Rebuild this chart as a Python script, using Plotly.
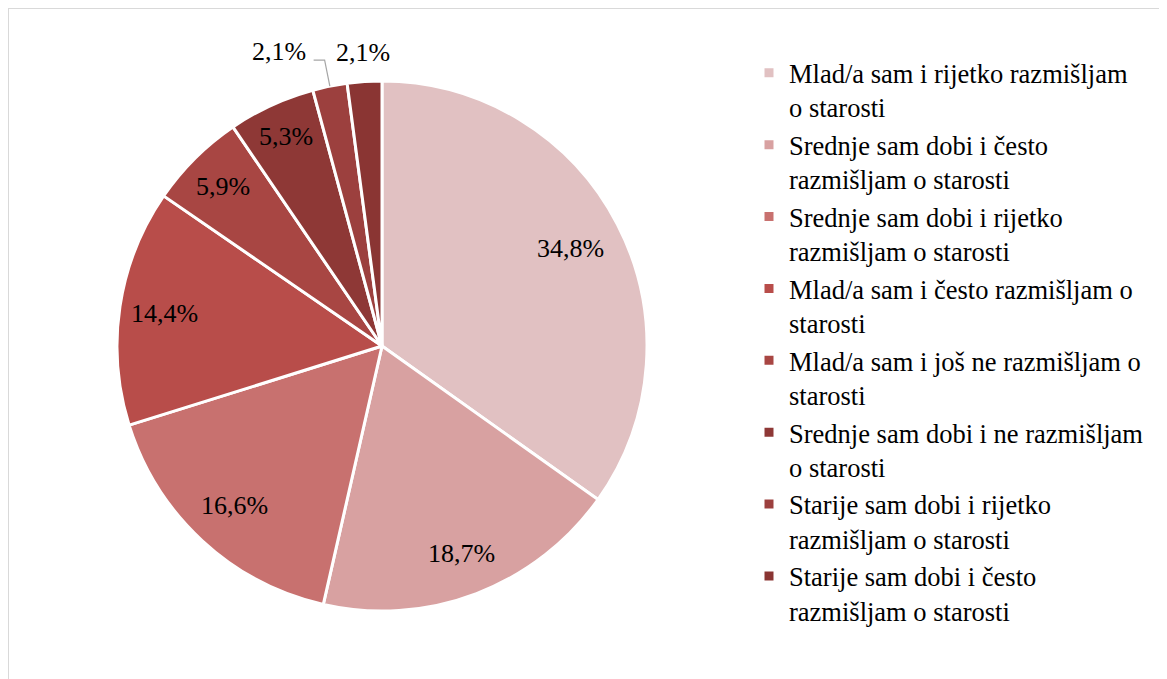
import math
import plotly.graph_objects as go

# ---- data ----
categories = [
    "Mlad/a sam i rijetko razmišljam<br>o starosti",
    "Srednje sam dobi i često<br>razmišljam o starosti",
    "Srednje sam dobi i rijetko<br>razmišljam o starosti",
    "Mlad/a sam i često razmišljam o<br>starosti",
    "Mlad/a sam i još ne razmišljam o<br>starosti",
    "Srednje sam dobi i ne razmišljam<br>o starosti",
    "Starije sam dobi i rijetko<br>razmišljam o starosti",
    "Starije sam dobi i često<br>razmišljam o starosti",
]
values = [34.8, 18.7, 16.6, 14.4, 5.9, 5.3, 2.1, 2.1]
value_labels = ["34,8%", "18,7%", "16,6%", "14,4%", "5,9%", "5,3%", "2,1%", "2,1%"]

# ---- style ----
colors = ["#E1C1C2", "#D8A1A1", "#C8716F", "#B84D4A",
          "#A84643", "#8E3836", "#9C403E", "#8A3533"]
label_radius = [0.80, 0.84, 0.82, 0.83, 0.85, 0.87, 1.10, 1.11]
W, H = 1167, 679
OFF = 8  # page body margin
CX, CY, R = 382 - OFF, 346 - OFF, 265  # pie centre / radius in figure pixels
FONT = "Liberation Serif"


def px(x):
    return x / W


def py(y):
    return 1 - y / H


fig = go.Figure(go.Pie(
    labels=categories,
    values=values,
    sort=False,
    direction="clockwise",
    rotation=0,
    marker=dict(colors=colors, line=dict(color="white", width=3)),
    textinfo="none",
    hoverinfo="label+percent",
    domain=dict(x=[px(CX - R), px(CX + R)], y=[py(CY + R), py(CY - R)]),
))

annotations = []
shapes = []
total = sum(values)
cum = 0.0
for i, (v, lab) in enumerate(zip(values, value_labels)):
    mid = math.radians((cum + v / 2) / total * 360)
    cum += v
    f = label_radius[i]
    lx = CX + f * R * math.sin(mid)
    ly = CY - f * R * math.cos(mid)
    if i == 6:
        # outside label with leader line
        ex = CX + R * math.sin(mid)
        ey = CY - R * math.cos(mid)
        hx = lx - 11
        shapes.append(dict(
            type="path", xref="paper", yref="paper",
            path=f"M{px(ex)},{py(ey)} L{px(lx)},{py(ly)} L{px(hx)},{py(ly)}",
            line=dict(color="#A6A6A6", width=1.2),
        ))
        annotations.append(dict(
            x=px(hx - 6), y=py(ly - 9), xref="paper", yref="paper",
            text=lab, showarrow=False, xanchor="right", yanchor="middle",
            font=dict(family=FONT, size=26, color="black"),
        ))
    else:
        annotations.append(dict(
            x=px(lx), y=py(ly), xref="paper", yref="paper",
            text=lab, showarrow=False, xanchor="center", yanchor="middle",
            font=dict(family=FONT, size=26, color="black"),
        ))

# chart area border
shapes.append(dict(
    type="rect", xref="paper", yref="paper",
    x0=0, y0=-0.1, x1=1.1, y1=1,
    line=dict(color="#D9D9D9", width=2), fillcolor="rgba(0,0,0,0)",
))

fig.update_layout(
    width=W, height=H,
    margin=dict(l=0, r=0, t=0, b=0),
    paper_bgcolor="white",
    plot_bgcolor="white",
    font=dict(family=FONT, size=26.5, color="black"),
    showlegend=True,
    legend=dict(
        x=px(741), y=py(41), xanchor="left", yanchor="top",
        font=dict(family=FONT, size=26.5, color="black"),
        valign="top",
        bgcolor="rgba(0,0,0,0)",
        traceorder="normal",
    ),
    annotations=annotations,
    shapes=shapes,
)

fig.write_html("out.html")
